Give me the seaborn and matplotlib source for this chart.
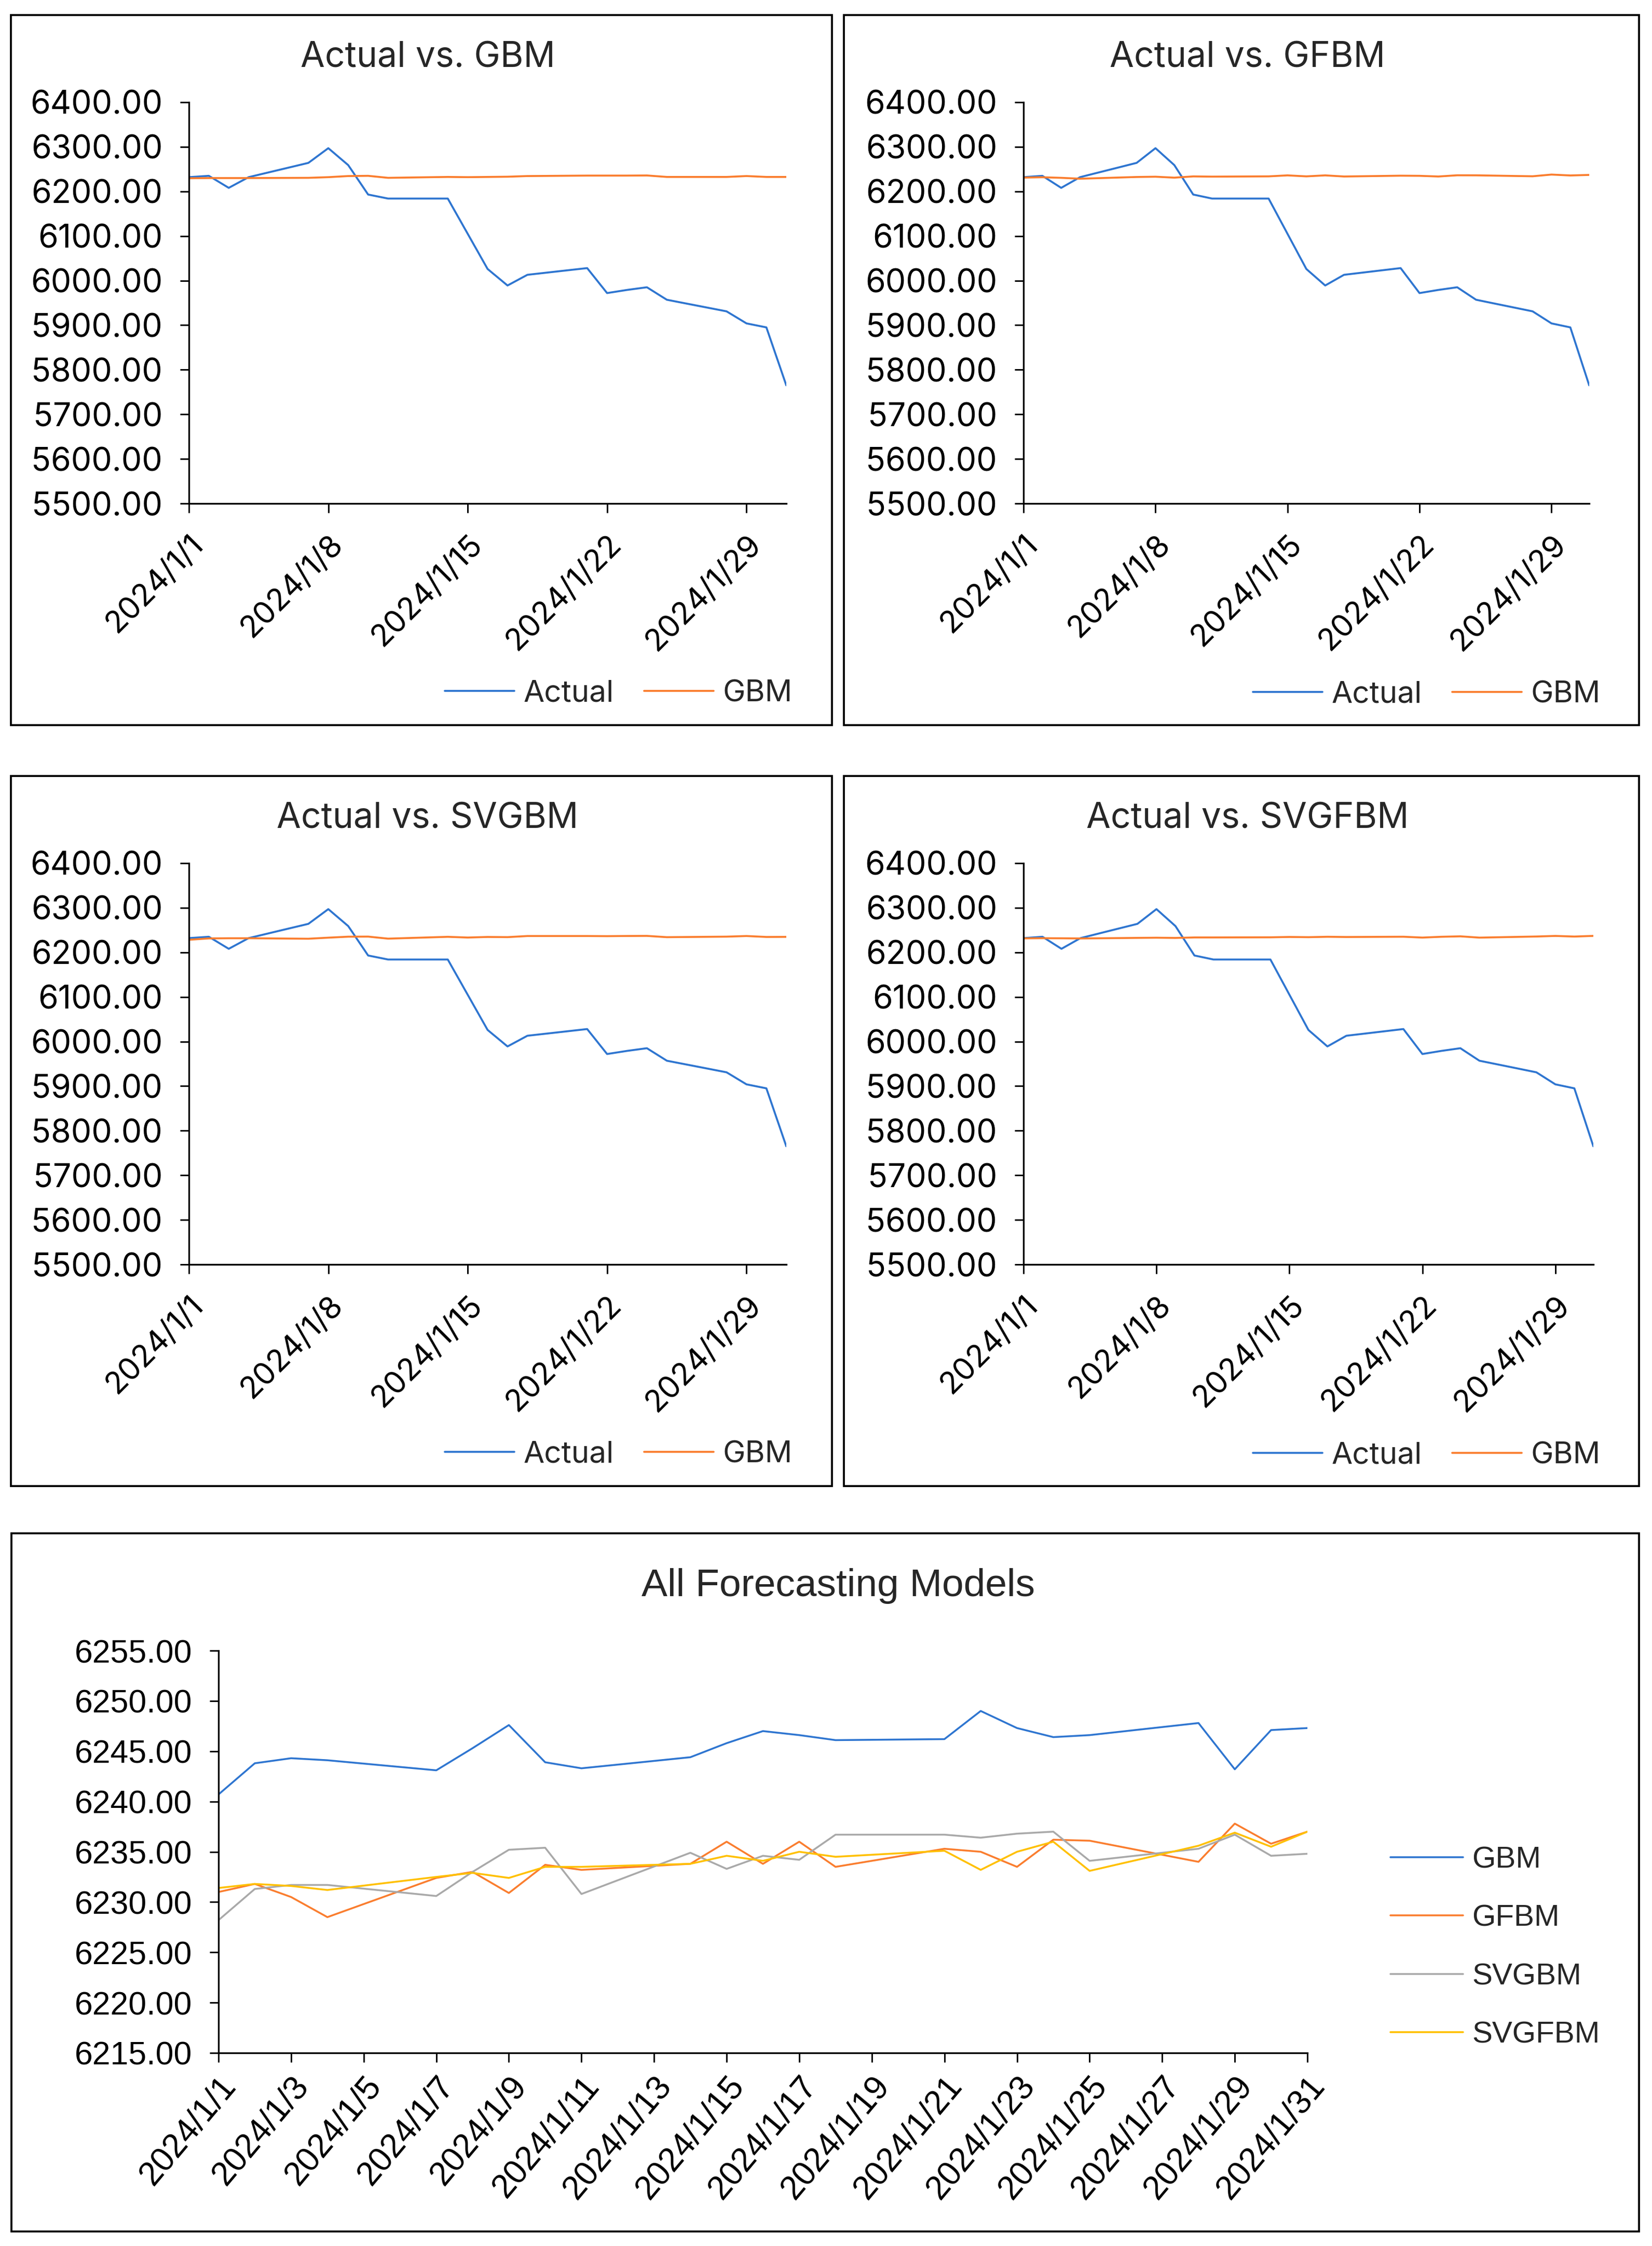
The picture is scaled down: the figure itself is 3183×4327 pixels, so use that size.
import pandas as pd
import matplotlib
matplotlib.use("Agg")
import matplotlib.pyplot as plt
from matplotlib.ticker import FormatStrFormatter, FuncFormatter, MultipleLocator
from matplotlib.patches import Rectangle
import matplotlib.dates as mdates
import seaborn as sns

sns.set_style("white")
plt.rcParams['font.family'] = ['Inter', 'DejaVu Sans']

# === Datos ===
dias = [1, 2, 3, 4, 7, 8, 9, 10, 11, 14, 15, 16, 17, 18, 21, 22, 23, 24, 25, 28, 29, 30, 31]

actual = [6232, 6235, 6208, 6232, 6264, 6297, 6259, 6193, 6184, 6184, 6105, 6026,
          5989, 6013, 6028, 5972, 5979, 5985, 5957, 5931, 5904, 5895, 5765]

# serie naranja del primer panel (no coincide con GBM del panel inferior)
gbm_panel = [6229.5, 6230.0, 6230.0, 6230.0, 6230.5, 6232.0, 6234.5, 6235.0, 6230.5, 6232.5,
             6232.0, 6232.5, 6233.0, 6234.5, 6235.5, 6235.5, 6235.5, 6235.8, 6232.5, 6232.5,
             6234.5, 6232.5, 6232.5]

gbm = [6240.7, 6243.8, 6244.3, 6244.1, 6243.1, 6245.3, 6247.6, 6243.9, 6243.3, 6244.4,
       6245.8, 6247.0, 6246.6, 6246.1, 6246.2, 6249.0, 6247.3, 6246.4, 6246.6, 6247.8,
       6243.2, 6247.1, 6247.3]

gfbm = [6231.0, 6231.8, 6230.5, 6228.5, 6232.4, 6233.0, 6230.9, 6233.7, 6233.2, 6233.8,
        6236.0, 6233.8, 6236.0, 6233.5, 6235.3, 6235.0, 6233.5, 6236.2, 6236.1, 6234.0,
        6237.8, 6235.8, 6237.0]

svgbm = [6228.2, 6231.3, 6231.7, 6231.7, 6230.6, 6233.0, 6235.2, 6235.4, 6230.8, 6234.9,
         6233.3, 6234.6, 6234.2, 6236.7, 6236.7, 6236.4, 6236.8, 6237.0, 6234.1, 6235.3,
         6236.7, 6234.6, 6234.8]

svgfbm = [6231.4, 6231.8, 6231.6, 6231.2, 6232.5, 6232.9, 6232.4, 6233.5, 6233.5, 6233.8,
          6234.6, 6234.1, 6235.0, 6234.5, 6235.1, 6233.2, 6235.0, 6236.0, 6233.1, 6235.6,
          6236.9, 6235.5, 6237.0]

fechas = pd.to_datetime([f"2024-01-{d:02d}" for d in dias])

colores = {"Actual": "#2E75D0", "GBM": "#FA7D2E"}
colores_inf = {"GBM": "#2E75D0", "GFBM": "#FA7D2E", "SVGBM": "#A9A9A9", "SVGFBM": "#FFC000"}
arial = ["Liberation Sans", "DejaVu Sans"]

W, H = 3183, 4327
fig = plt.figure(figsize=(W / 300, H / 300), dpi=300)
fig.patch.set_facecolor("white")


def caja(l, t, r, b):
    return [l / W, 1 - b / H, (r - l) / W, (b - t) / H]


def marco(l, t, r, b):
    fig.patches.append(Rectangle((l / W, 1 - b / H), (r - l) / W, (b - t) / H,
                                 transform=fig.transFigure, fill=False,
                                 edgecolor="black", linewidth=0.9))


def etiqueta_fecha(x, pos):
    d = mdates.num2date(x)
    return f"{d.year}/{d.month}/{d.day}"


def estilo_ejes(ax, xsize, ysize, rot=45, xpad=8):
    sns.despine(ax=ax)
    for s in ["left", "bottom"]:
        ax.spines[s].set_color("black")
        ax.spines[s].set_linewidth(0.8)
    ax.tick_params(axis="both", direction="out", length=4.2, width=0.7, colors="black",
                   bottom=True, left=True, pad=8)
    ax.tick_params(axis="x", labelsize=xsize, pad=xpad)
    ax.tick_params(axis="y", labelsize=ysize)
    ax.set_xlabel("")
    ax.set_ylabel("")
    ax.xaxis.set_major_formatter(FuncFormatter(etiqueta_fecha))
    ax.yaxis.set_major_formatter(FormatStrFormatter("%.2f"))
    plt.setp(ax.get_xticklabels(), rotation=rot, ha="right", rotation_mode="anchor")


# === Paneles superiores: Actual vs. modelo ===
paneles = [
    ("Actual vs. GBM", gbm_panel, (364, 197, 1515, 970), (21, 29, 1603, 1397), 857, 1336),
    ("Actual vs. GFBM", gfbm, (1972, 197, 3062, 970), (1626, 29, 3158, 1397), 2414, 1338),
    ("Actual vs. SVGBM", svgbm, (364, 1663, 1515, 2436), (21, 1495, 1603, 2863), 857, 2802),
    ("Actual vs. SVGFBM", svgfbm, (1972, 1663, 3070, 2436), (1626, 1495, 3158, 2863), 2414, 2804),
]

for titulo, modelo, pos, borde, ley_x, ley_y in paneles:
    ax = fig.add_axes(caja(*pos))
    df = pd.DataFrame({"Fecha": fechas, "Actual": actual, "GBM": modelo})
    df = df.melt(id_vars="Fecha", var_name="Serie", value_name="Valor")
    sns.lineplot(data=df, x="Fecha", y="Valor", hue="Serie", palette=colores,
                 linewidth=0.9, ax=ax)
    ax.set_xlim(pd.Timestamp("2024-01-01"), pd.Timestamp("2024-01-31"))
    ax.set_ylim(5500, 6400)
    ax.yaxis.set_major_locator(MultipleLocator(100))
    ax.set_xticks(pd.to_datetime(["2024-01-01", "2024-01-08", "2024-01-15",
                                  "2024-01-22", "2024-01-29"]))
    estilo_ejes(ax, 14.3, 15)
    sns.move_legend(ax, "center left", bbox_to_anchor=(ley_x / W, 1 - ley_y / H),
                    bbox_transform=fig.transFigure, ncol=2, frameon=False, title=None,
                    fontsize=14, handlelength=2.3, handletextpad=0.3, columnspacing=1.0,
                    borderpad=0, borderaxespad=0)
    cx = (borde[0] + borde[2]) / 2 + 12
    fig.text(cx / W, 1 - (borde[1] + 82) / H, titulo, ha="center", va="center",
             fontsize=16.3)
    marco(*borde)

# === Panel inferior: todos los modelos ===
ax = fig.add_axes(caja(421, 3180, 2519, 3955))
df_all = pd.DataFrame({"Fecha": fechas, "GBM": gbm, "GFBM": gfbm,
                       "SVGBM": svgbm, "SVGFBM": svgfbm})
df_all = df_all.melt(id_vars="Fecha", var_name="Modelo", value_name="Valor")
sns.lineplot(data=df_all, x="Fecha", y="Valor", hue="Modelo", palette=colores_inf,
             linewidth=0.85, ax=ax)
ax.set_xlim(pd.Timestamp("2024-01-01"), pd.Timestamp("2024-01-31"))
ax.set_ylim(6215, 6255)
ax.yaxis.set_major_locator(MultipleLocator(5))
ax.set_xticks(pd.date_range("2024-01-01", "2024-01-31", freq="2D"))
estilo_ejes(ax, 15.5, 15, rot=50, xpad=4)
for lab in ax.get_xticklabels() + ax.get_yticklabels():
    lab.set_family(arial)
sns.move_legend(ax, "center left", bbox_to_anchor=(2679 / W, 1 - 3752 / H),
                bbox_transform=fig.transFigure, ncol=1, frameon=False, title=None,
                fontsize=14, handlelength=2.4, handletextpad=0.3, labelspacing=1.0,
                borderpad=0, borderaxespad=0)
for t in ax.get_legend().get_texts():
    t.set_family(arial)
fig.text(1615 / W, 1 - 3055 / H, "All Forecasting Models", ha="center", va="center",
         fontsize=18, family=arial)
marco(22, 2954, 3158, 4299)

fig.savefig("out.png", dpi=300, facecolor="white")
